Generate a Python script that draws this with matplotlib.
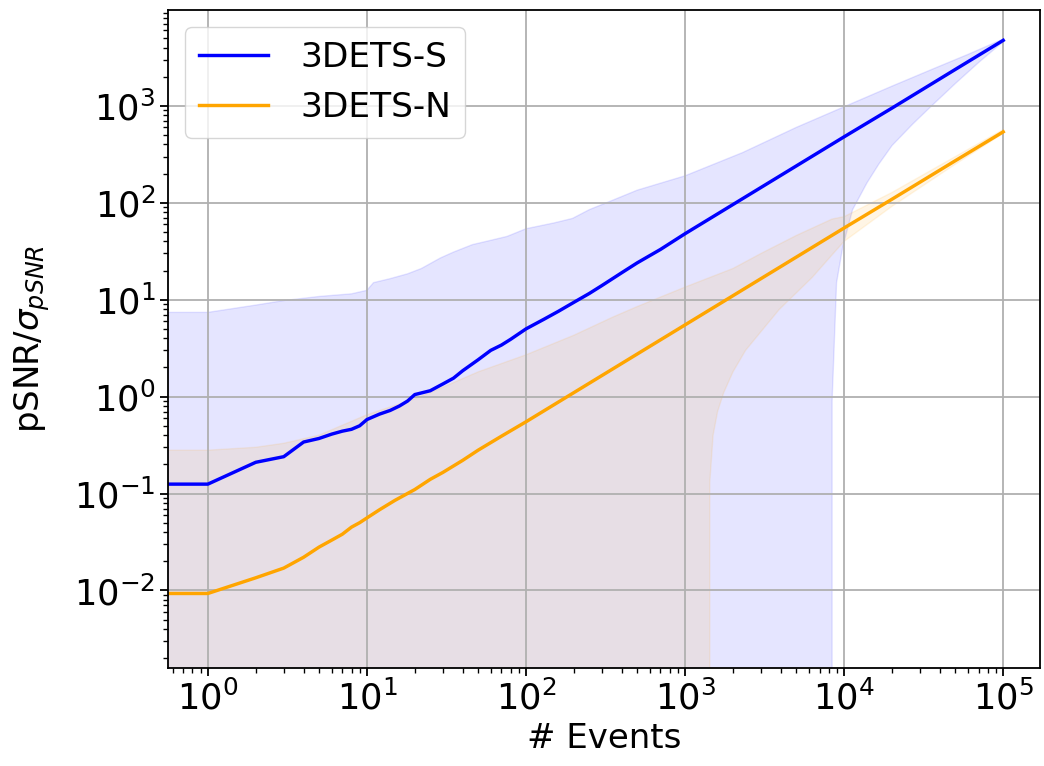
import numpy as np
import matplotlib
matplotlib.use("Agg")
import matplotlib.pyplot as plt

# values (N = number of events)
s_n = [0, 1, 2, 3, 4, 5, 6, 7, 8, 9, 10, 12, 14, 16, 18, 20, 25, 30, 35, 40, 50, 60, 70, 80,
       100, 130, 160, 200, 250, 300, 400, 500, 700, 1000, 2000, 5000, 10000, 20000, 50000, 100000]
s_mean = [0.125, 0.125, 0.21, 0.24, 0.34, 0.37, 0.41, 0.44, 0.46, 0.50, 0.58, 0.66, 0.72, 0.80,
          0.90, 1.05, 1.15, 1.35, 1.55, 1.85, 2.4, 3.0, 3.4, 3.9, 5.0, 6.3, 7.6, 9.4, 11.6, 14.0,
          19.0, 24.0, 33.0, 48.0, 96.0, 240.0, 480.0, 950.0, 2380.0, 4750.0]

s_hi_n = [0, 1, 2, 3, 5, 8, 10, 11, 14, 18, 22, 29, 35, 46, 60, 76, 100, 150, 196, 250, 320,
          500, 1000, 2300, 5000, 10000, 20000, 36000, 60000, 100000]
s_hi = [7.4, 7.4, 8.8, 9.8, 10.8, 11.5, 12.5, 15.0, 16.5, 18.5, 21.0, 27.0, 31.0, 37.0, 41.0,
        45.0, 54.0, 62.0, 69.0, 85.0, 100.0, 135.0, 190.0, 330.0, 600.0, 980.0, 1600.0, 2400.0,
        3400.0, 4900.0]

# lower edge is below zero (off the log axis) up to ~8300 events
s_lo_n = [0, 8300, 8400, 8960, 9800, 11300, 13900, 16500, 20000, 27000, 35000, 50000, 70000, 100000]
s_lo = [0, 0, 0.9, 15.0, 35.0, 85.0, 160.0, 250.0, 390.0, 650.0, 980.0, 1700.0, 2800.0, 4600.0]

n_n = [0, 1, 2, 3, 4, 5, 6, 7, 8, 9, 10, 12, 15, 20, 25, 30, 40, 50, 70, 100, 200, 500, 1000,
       2000, 5000, 10000, 20000, 50000, 100000]
n_mean = [0.0093, 0.0093, 0.0135, 0.017, 0.022, 0.028, 0.033, 0.038, 0.045, 0.050, 0.056, 0.068,
          0.085, 0.11, 0.14, 0.165, 0.22, 0.28, 0.39, 0.55, 1.1, 2.75, 5.5, 11.0, 27.5, 55.0,
          109.0, 272.0, 540.0]

n_hi_n = [0, 1, 2, 3, 5, 10, 20, 30, 50, 100, 200, 350, 500, 1000, 2000, 3000, 5000, 8400,
          10000, 20000, 50000, 100000]
n_hi = [0.28, 0.28, 0.30, 0.33, 0.40, 0.65, 0.95, 1.25, 1.8, 2.7, 4.3, 6.6, 8.5, 13.5, 21.0,
        30.0, 46.0, 68.0, 72.0, 128.0, 300.0, 570.0]

# lower edge is below zero up to ~1400 events
n_lo_n = [0, 1400, 1430, 1500, 1600, 1750, 2000, 2400, 3900, 6300, 9000, 10000, 20000, 50000, 100000]
n_lo = [0, 0, 0.13, 0.4, 0.7, 1.1, 1.8, 3.0, 7.9, 17.0, 33.0, 40.0, 92.0, 250.0, 520.0]

labels = ['3DETS-S', '3DETS-N']

s = 1.63  # reference was drawn small and scaled up
plt.rcParams.update({
    'font.size': 15 * s,
    'xtick.labelsize': 15.6 * s, 'ytick.labelsize': 15.6 * s,
    'axes.linewidth': 0.8 * s,
    'grid.linewidth': 0.8 * s,
    'xtick.major.size': 3.5 * s, 'ytick.major.size': 3.5 * s,
    'xtick.minor.size': 2 * s, 'ytick.minor.size': 2 * s,
    'xtick.major.width': 0.8 * s, 'ytick.major.width': 0.8 * s,
    'xtick.minor.width': 0.6 * s, 'ytick.minor.width': 0.6 * s,
})

fig = plt.figure(figsize=(10.44, 7.66), dpi=100)
ax = fig.add_axes([0.161, 0.128, 0.835, 0.859])

def band(xh, yh, xl, yl, color):
    # upper edge left->right, lower edge back right->left
    xs = list(xh) + list(xl)[::-1]
    ys = list(yh) + list(yl)[::-1]
    ax.fill(xs, ys, color=color, alpha=0.1, lw=1.0)

band(s_hi_n, s_hi, s_lo_n, s_lo, 'blue')
band(n_hi_n, n_hi, n_lo_n, n_lo, 'orange')
ax.plot(s_n, s_mean, color='blue', lw=1.5 * s, label=labels[0])
ax.plot(n_n, n_mean, color='orange', lw=1.5 * s, label=labels[1])

ax.set_xscale('log')
ax.set_yscale('log')
ax.set_xlim(10 ** -0.25, 10 ** 5.23)
ax.set_ylim(10 ** -2.8, 10 ** 3.99)
ax.grid(True)
ax.set_xlabel('# Events')
ax.set_ylabel(r'pSNR/$\sigma_{pSNR}$', labelpad=16)
ax.legend(loc='upper left', fontsize=15.2 * s, handletextpad=0.95)

fig.savefig('out.png', dpi=100)
